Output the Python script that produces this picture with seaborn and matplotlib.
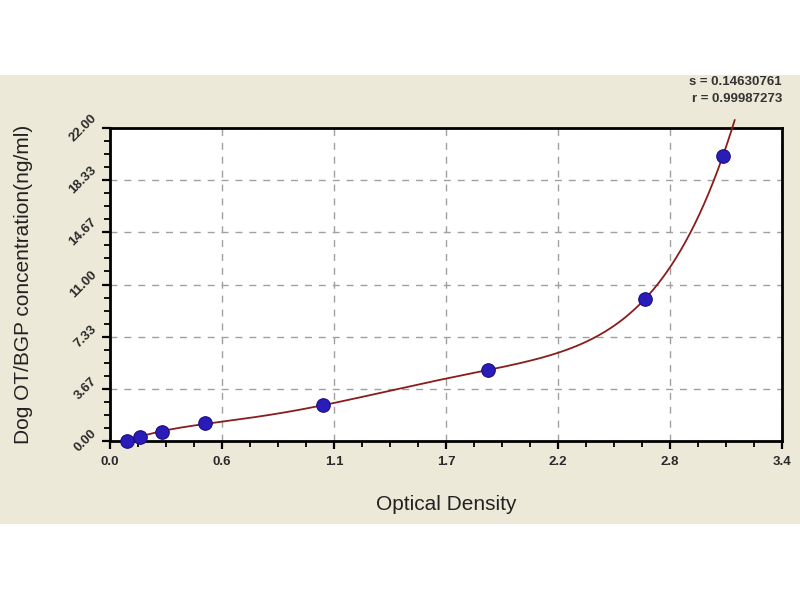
import numpy as np
import pandas as pd
import matplotlib
matplotlib.use("Agg")
import matplotlib.pyplot as plt
from matplotlib.ticker import AutoMinorLocator, FixedLocator, FixedFormatter
from matplotlib.patches import Rectangle
import seaborn as sns

# ---- data ----
od = [0.084, 0.152, 0.262, 0.481, 1.078, 1.914, 2.708, 3.100]
conc = [0.0, 0.3125, 0.625, 1.25, 2.5, 5.0, 10.0, 20.0]
x_ticks = [0.0, 0.5667, 1.1333, 1.7, 2.2667, 2.8333, 3.4]
x_tick_labels = ["0.0", "0.6", "1.1", "1.7", "2.2", "2.8", "3.4"]
y_ticks = [0.0, 3.6667, 7.3333, 11.0, 14.6667, 18.3333, 22.0]
y_tick_labels = ["0.00", "3.67", "7.33", "11.00", "14.67", "18.33", "22.00"]
stat_lines = ["s = 0.14630761", "r = 0.99987273"]
x_label = "Optical Density"
y_label = "Dog OT/BGP concentration(ng/ml)"

sns.set_theme(style="white")
plt.rcParams['font.family'] = ['Liberation Sans', 'DejaVu Sans']

fig = plt.figure(figsize=(8, 6), dpi=100, facecolor="white")
fig.patches.append(Rectangle((0, 1 - 524 / 600), 1, (524 - 75) / 600,
                             transform=fig.transFigure, facecolor="#ECE9D8",
                             edgecolor="none", zorder=-10))
ax = fig.add_axes([110 / 800, 1 - 441 / 600, (782 - 110) / 800, (441 - 128) / 600])
ax.set_zorder(1)
ax.set_facecolor("white")

# fitted standard curve (polynomial least squares on the standards)
coef = np.polyfit(od, conc, 5)
xs = np.linspace(min(od), 3.2, 400)
ys = np.polyval(coef, xs)
keep = ys <= 22.7
curve = pd.DataFrame({"x": xs[keep], "y": ys[keep]})
pts = pd.DataFrame({"od": od, "conc": conc})

sns.lineplot(data=curve, x="x", y="y", ax=ax, color="#8B1C1C", linewidth=1.3,
             sort=False, clip_on=False, zorder=3)
sns.scatterplot(data=pts, x="od", y="conc", ax=ax, marker="o", s=95,
                color="#2A1CB8", edgecolor="#1A0E80", linewidth=0.8, zorder=4,
                clip_on=False)

ax.set_xlim(0, 3.4)
ax.set_ylim(0, 22)
ax.xaxis.set_major_locator(FixedLocator(x_ticks))
ax.xaxis.set_major_formatter(FixedFormatter(x_tick_labels))
ax.yaxis.set_major_locator(FixedLocator(y_ticks))
ax.yaxis.set_major_formatter(FixedFormatter(y_tick_labels))
ax.xaxis.set_minor_locator(AutoMinorLocator(4))
ax.yaxis.set_minor_locator(AutoMinorLocator(4))

ax.grid(True, which="major", color="#A0A0A0", linestyle=(0, (5, 5)), linewidth=1)
ax.tick_params(axis="both", which="both", bottom=True, left=True, top=False,
               right=False)
ax.tick_params(axis="both", which="major", direction="out", length=6, width=1.6,
               color="black", labelsize=9.5, labelcolor="#2a2a2a")
ax.tick_params(axis="both", which="minor", direction="out", length=4, width=1.3,
               color="black")
ax.tick_params(axis="x", which="major", pad=5)
ax.tick_params(axis="y", which="major", pad=2)
for lab in ax.get_yticklabels():
    lab.set_rotation(45)
    lab.set_ha("right")
    lab.set_va("center")
    lab.set_fontweight("bold")
for lab in ax.get_xticklabels():
    lab.set_fontweight("bold")
for sp in ax.spines.values():
    sp.set_visible(True)
    sp.set_color("black")
    sp.set_linewidth(2)

ax.set_xlabel(x_label, fontsize=15, color="#222222", labelpad=19)
ax.set_ylabel(y_label, fontsize=15, color="#222222", labelpad=24)

fig.text(782 / 800, 1 - 82 / 600, stat_lines[0], ha="right", va="center",
         fontsize=9.5, fontweight="bold", color="#333333")
fig.text(782 / 800, 1 - 99 / 600, stat_lines[1], ha="right", va="center",
         fontsize=9.5, fontweight="bold", color="#333333")

fig.savefig("out.png", dpi=100, facecolor="white")
